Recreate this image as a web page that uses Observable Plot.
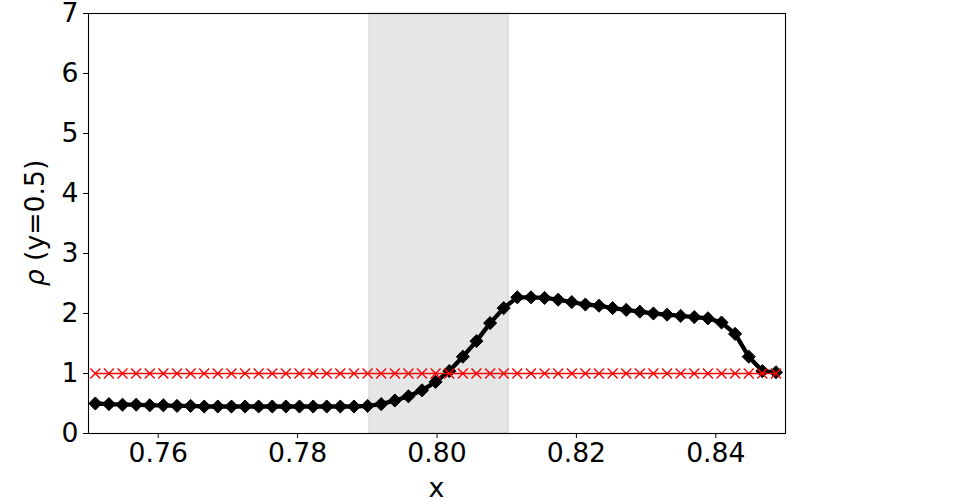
<!DOCTYPE html>
<html><head><meta charset="utf-8">
<script src="https://cdn.jsdelivr.net/npm/d3@7"></script>
<script src="https://cdn.jsdelivr.net/npm/@observablehq/plot@0.6"></script>
<style>body{margin:0;background:#fff} svg{font-family:"DejaVu Sans"}</style>
</head><body><div id="chart"></div><script>
const xValues = [0.75098,0.75293,0.75488,0.75684,0.75879,0.76074,0.76270,0.76465,0.76660,0.76855,
  0.77051,0.77246,0.77441,0.77637,0.77832,0.78027,0.78223,0.78418,0.78613,0.78809,
  0.79004,0.79199,0.79395,0.79590,0.79785,0.79980,0.80176,0.80371,0.80566,0.80762,
  0.80957,0.81152,0.81348,0.81543,0.81738,0.81934,0.82129,0.82324,0.82520,0.82715,
  0.82910,0.83105,0.83301,0.83496,0.83691,0.83887,0.84082,0.84277,0.84473,0.84668,0.84863];
const rhoValues = [0.50,0.49,0.48,0.48,0.47,0.47,0.46,0.46,0.45,0.45,
  0.45,0.45,0.45,0.45,0.45,0.45,0.45,0.45,0.45,0.45,
  0.46,0.49,0.55,0.62,0.72,0.86,1.04,1.28,1.54,1.84,
  2.09,2.27,2.27,2.26,2.23,2.19,2.15,2.13,2.09,2.06,
  2.03,2.00,1.98,1.96,1.94,1.92,1.85,1.66,1.28,1.04,1.02];
const rhoInitial = [1,1,1,1,1,1,1,1,1,1, 1,1,1,1,1,1,1,1,1,1, 1,1,1,1,1,1,1,1,1,1,
  1,1,1,1,1,1,1,1,1,1, 1,1,1,1,1,1,1,1,1,1, 1];
const shadeStart = [0.7903];
const shadeEnd = [0.8103];
const xTicks = [0.76,0.78,0.80,0.82,0.84];
const yTicks = [0,1,2,3,4,5,6,7];

const data = xValues.map((x,i)=>({x, rho: rhoValues[i], rho0: rhoInitial[i]}));
const shade = shadeStart.map((s,i)=>({x1:s, x2:shadeEnd[i]}));
const FS = 26.67;

const chart = Plot.plot({
  width:975, height:500,
  marginLeft:88, marginRight:190, marginTop:13, marginBottom:67,
  style:{fontFamily:"DejaVu Sans", fontSize:FS+"px", background:"white", color:"black"},
  x:{domain:[0.75,0.85]},
  y:{domain:[yTicks[0], yTicks[yTicks.length-1]]},
  marks:[
    Plot.rect(shade, {x1:"x1", x2:"x2", y1:yTicks[0], y2:yTicks[yTicks.length-1], fill:"gray", fillOpacity:0.2, stroke:"gray", strokeOpacity:0.2, strokeWidth:1.3}),
    Plot.line(data, {x:"x", y:"rho", stroke:"black", strokeWidth:4.3}),
    Plot.dot(data, {x:"x", y:"rho", symbol:"diamond2", r:5.9, fill:"black", stroke:"black", strokeWidth:1}),
    Plot.line(data, {x:"x", y:"rho0", stroke:"red", strokeWidth:1.4}),
    Plot.dot(data, {x:"x", y:"rho0", symbol:"times", r:4.6, stroke:"red", strokeWidth:1.4}),
    Plot.axisX({ticks:xTicks, tickFormat:d3.format(".2f"), tickSize:5, tickPadding:5, label:null, fontSize:FS}),
    Plot.axisY({ticks:yTicks, tickFormat:d3.format("d"), tickSize:5, tickPadding:5, label:null, fontSize:FS}),
    Plot.frame({stroke:"black", strokeWidth:1.1})
  ]
});

const svg = d3.select(chart);
svg.append("text")
  .attr("x", 436.5).attr("y", 497)
  .attr("text-anchor","middle").attr("font-size",FS).attr("fill","black")
  .text("x");
const yl = svg.append("text")
  .attr("transform","translate(44,223) rotate(-90)")
  .attr("text-anchor","middle").attr("font-size",FS).attr("fill","black");
yl.append("tspan").attr("font-style","italic").text("ρ");
yl.append("tspan").text(" (y=0.5)");

document.getElementById("chart").appendChild(chart);
</script></body></html>
